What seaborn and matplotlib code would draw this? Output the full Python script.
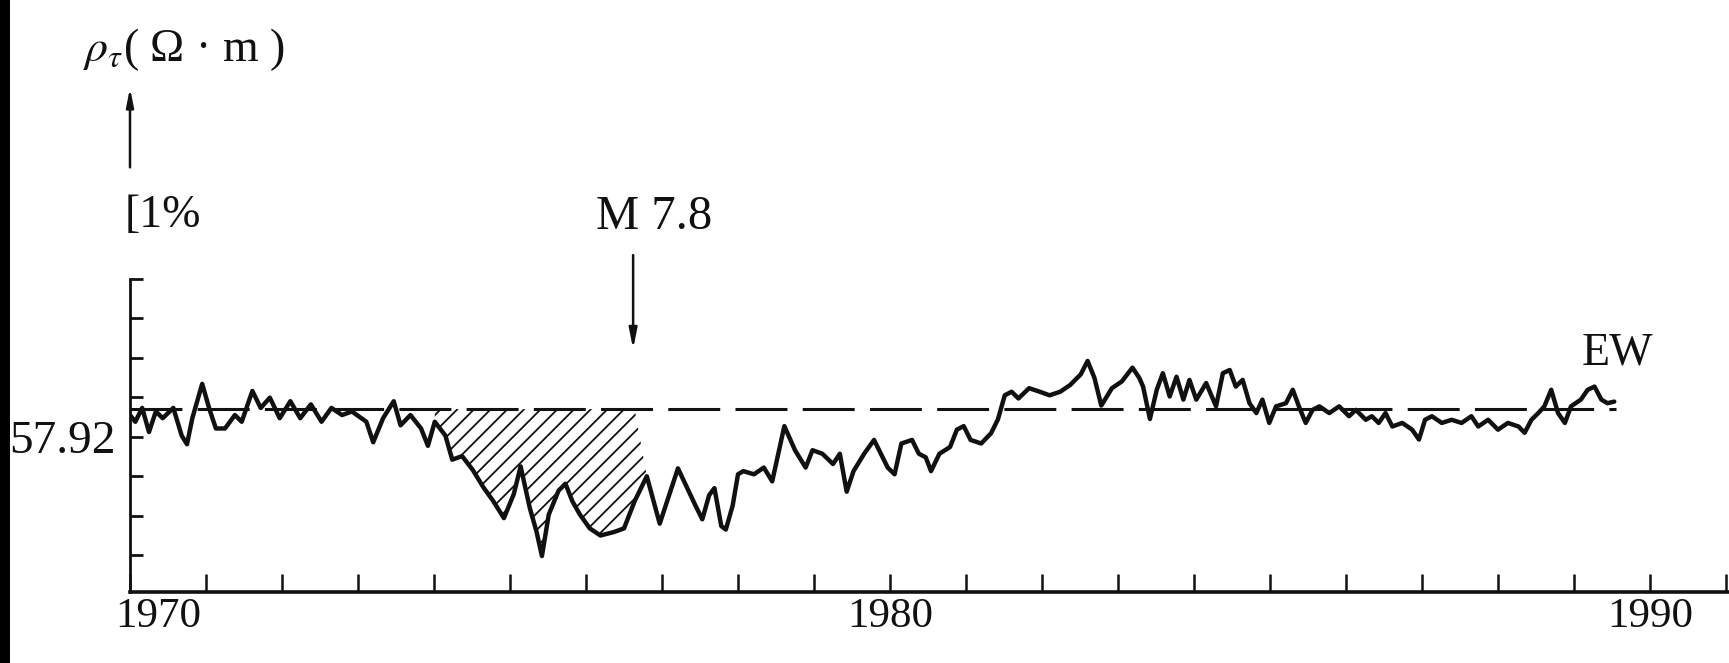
import matplotlib
matplotlib.use("Agg")
import matplotlib.pyplot as plt
import matplotlib.transforms as mtransforms
from matplotlib.patches import Rectangle
import numpy as np
import pandas as pd
import seaborn as sns

# ---------------- data ----------------
years = [
    1970.00, 1970.07, 1970.16, 1970.25, 1970.34, 1970.43, 1970.57, 1970.68, 1970.75, 1970.82,
    1970.95, 1971.04, 1971.13, 1971.25, 1971.38, 1971.47, 1971.61, 1971.72, 1971.84, 1971.97,
    1972.11, 1972.24, 1972.38, 1972.52, 1972.65, 1972.79, 1972.92, 1973.11, 1973.20, 1973.33,
    1973.47, 1973.56, 1973.69, 1973.83, 1973.92, 1974.01, 1974.15, 1974.24, 1974.37, 1974.51,
    1974.65, 1974.78, 1974.92, 1975.05, 1975.14, 1975.26, 1975.35, 1975.42, 1975.51, 1975.64,
    1975.73, 1975.82, 1975.92, 1976.05, 1976.19, 1976.37, 1976.50, 1976.64, 1976.80, 1976.97,
    1977.21, 1977.44, 1977.53, 1977.62, 1977.69, 1977.78, 1977.84, 1977.93, 1978.00, 1978.07,
    1978.21, 1978.34, 1978.45, 1978.52, 1978.61, 1978.75, 1978.89, 1978.98, 1979.11, 1979.25,
    1979.34, 1979.43, 1979.52, 1979.66, 1979.79, 1979.88, 1979.97, 1980.06, 1980.15, 1980.29,
    1980.38, 1980.47, 1980.54, 1980.65, 1980.79, 1980.88, 1980.97, 1981.06, 1981.20, 1981.33,
    1981.42, 1981.51, 1981.60, 1981.69, 1981.83, 1981.97, 1982.10, 1982.24, 1982.37, 1982.51,
    1982.60, 1982.69, 1982.78, 1982.92, 1983.05, 1983.19, 1983.28, 1983.33, 1983.42, 1983.51,
    1983.59, 1983.68, 1983.77, 1983.86, 1983.94, 1984.03, 1984.16, 1984.29, 1984.38, 1984.47,
    1984.55, 1984.64, 1984.73, 1984.82, 1984.90, 1984.99, 1985.08, 1985.21, 1985.30, 1985.38,
    1985.47, 1985.56, 1985.65, 1985.78, 1985.91, 1986.04, 1986.13, 1986.26, 1986.34, 1986.43,
    1986.52, 1986.61, 1986.74, 1986.87, 1986.96, 1987.04, 1987.13, 1987.26, 1987.39, 1987.52,
    1987.65, 1987.74, 1987.87, 1988.00, 1988.13, 1988.27, 1988.35, 1988.44, 1988.53, 1988.61,
    1988.70, 1988.79, 1988.88, 1988.96, 1989.09, 1989.18, 1989.27, 1989.36, 1989.44, 1989.53,
]
# relative change of apparent resistivity (%) about 57.92 ohm*m
rho_dev = [
    -0.15, -0.32, 0.03, -0.58, -0.06, -0.23, 0.03, -0.67, -0.89, -0.23,
    0.64, 0.03, -0.49, -0.49, -0.15, -0.32, 0.46, 0.03, 0.29, -0.23,
    0.20, -0.23, 0.12, -0.32, 0.03, -0.15, -0.06, -0.32, -0.84, -0.23,
    0.20, -0.41, -0.15, -0.49, -0.93, -0.32, -0.67, -1.28, -1.19, -1.54,
    -1.98, -2.33, -2.76, -2.15, -1.45, -2.50, -3.11, -3.72, -2.67, -2.06,
    -1.89, -2.33, -2.67, -3.02, -3.20, -3.11, -3.02, -2.33, -1.70, -2.90,
    -1.50, -2.44, -2.79, -2.18, -2.00, -2.96, -3.05, -2.44, -1.65, -1.57,
    -1.65, -1.48, -1.83, -1.22, -0.43, -1.04, -1.48, -1.04, -1.13, -1.39,
    -1.13, -2.09, -1.57, -1.13, -0.78, -1.13, -1.48, -1.65, -0.87, -0.78,
    -1.13, -1.22, -1.57, -1.13, -0.96, -0.52, -0.43, -0.78, -0.87, -0.61,
    -0.26, 0.35, 0.44, 0.27, 0.53, 0.44, 0.35, 0.44, 0.61, 0.88,
    1.22, 0.79, 0.09, 0.53, 0.70, 1.05, 0.79, 0.57, -0.25, 0.49,
    0.91, 0.32, 0.82, 0.24, 0.74, 0.24, 0.66, 0.07, 0.91, 0.99,
    0.57, 0.74, 0.15, -0.10, 0.24, -0.35, 0.07, 0.15, 0.49, 0.07,
    -0.35, -0.02, 0.07, -0.10, 0.07, -0.18, -0.02, -0.27, -0.18, -0.35,
    -0.10, -0.44, -0.35, -0.52, -0.77, -0.27, -0.18, -0.35, -0.27, -0.35,
    -0.18, -0.44, -0.27, -0.52, -0.35, -0.44, -0.60, -0.27, -0.10, 0.07,
    0.49, -0.10, -0.35, 0.07, 0.24, 0.49, 0.57, 0.24, 0.15, 0.19,
]
baseline_years = [1970.0, 1989.55]
baseline_value = [0.0, 0.0]
anomaly_start, anomaly_end = 1974.0, 1976.7
quake_year = 1976.62
quake_label = "M 7.8"
station_label = "EW"
mean_label = "57.92"
y_title = r"$\rho_\tau$( Ω · m )"
scale_label = "[1%"
x_ticks = list(range(1970, 1992))
x_tick_labels = ["1970" if y == 1970 else "1980" if y == 1980 else "1990" if y == 1990 else "" for y in x_ticks]
y_ticks = [-3.7, -2.7, -1.7, -0.7, 0.3, 1.3, 2.3, 3.3]
y_tick_labels = ["", "", "", mean_label, "", "", "", ""]

# ---------------- style ----------------
sns.set_theme(style="white")
plt.rcParams["font.family"] = ["Liberation Serif", "DejaVu Serif"]
plt.rcParams["mathtext.fontset"] = "stix"
plt.rcParams["hatch.linewidth"] = 1.3
ink = "#111111"

W, H = 1729, 663
fig = plt.figure(figsize=(W / 100, H / 100), dpi=100)
fig.patch.set_facecolor("white")
ax = fig.add_axes([130 / W, 71 / H, (W - 130) / W, (H - 71) / H])
ax.set_facecolor("none")

df = pd.DataFrame({"year": years, "rho": rho_dev})
base = pd.DataFrame({"year": baseline_years, "rho": baseline_value})

# dashed mean level
sns.lineplot(data=base, x="year", y="rho", ax=ax, color=ink, lw=2.2,
             dashes=False, estimator=None)
ax.lines[-1].set_dashes((17, 5))

# hatched anomaly
x = np.asarray(years)
yv = np.asarray(rho_dev)
mask = (x >= anomaly_start) & (x <= anomaly_end)
ax.fill_between(x, yv, 0, where=mask, interpolate=True, facecolor="none",
                edgecolor=ink, hatch="//", linewidth=0)

# series
sns.lineplot(data=df, x="year", y="rho", ax=ax, color=ink, lw=3.2,
             estimator=None, sort=False)

ax.set_xlim(1970, 1970 + (W - 130) / 76)
ax.set_ylim(-4.63, -4.63 + (H - 71) / 39.5)

for s in ["top", "right"]:
    ax.spines[s].set_visible(False)
ax.spines["left"].set_bounds(-4.63, 3.3)
ax.spines["left"].set_linewidth(2.0)
ax.spines["bottom"].set_linewidth(2.6)
ax.spines["left"].set_color(ink)
ax.spines["bottom"].set_color(ink)

ax.set_xticks(x_ticks)
ax.set_xticklabels(x_tick_labels)
ax.set_yticks(y_ticks)
ax.set_yticklabels(y_tick_labels)
ax.tick_params(axis="x", which="major", bottom=True, direction="in", length=13,
               width=1.8, color=ink, labelsize=31, pad=4, labelcolor=ink)
ax.tick_params(axis="y", which="major", left=True, direction="in", length=9,
               width=2.0, color=ink, labelsize=34, pad=10, labelcolor=ink)
ax.set_xlabel("")
ax.set_ylabel("")
ax.grid(False)

# shift the 1970 label right as in the reference
for lab in ax.get_xticklabels():
    if lab.get_text() == "1970":
        lab.set_transform(lab.get_transform() +
                          mtransforms.ScaledTranslation(0.28, 0, fig.dpi_scale_trans))

# annotations
ax.text(1969.38, 9.09, y_title, fontsize=33, ha="left", va="center", color=ink, clip_on=False)
ax.annotate("", xy=(1970.0, 8.2), xytext=(1970.0, 6.05),
            arrowprops=dict(arrowstyle="-|>,head_length=0.9,head_width=0.18",
                            color=ink, lw=1.8), annotation_clip=False)
ax.text(1969.93, 4.89, scale_label, fontsize=33, ha="left", va="center", color=ink, clip_on=False)
ax.text(1976.13, 4.86, quake_label, fontsize=35, ha="left", va="center", color=ink, clip_on=False)
ax.annotate("", xy=(quake_year, 1.45), xytext=(quake_year, 3.97),
            arrowprops=dict(arrowstyle="-|>,head_length=1.0,head_width=0.2",
                            color=ink, lw=1.8), annotation_clip=False)
ax.text(1989.1, 1.42, station_label, fontsize=33, ha="left", va="center", color=ink, clip_on=False)

# dark scan edge on the left
fig.add_artist(Rectangle((0, 0), 10 / W, 1, transform=fig.transFigure,
                         facecolor="black", edgecolor="none"))

fig.savefig("out.png", dpi=100, facecolor="white")
